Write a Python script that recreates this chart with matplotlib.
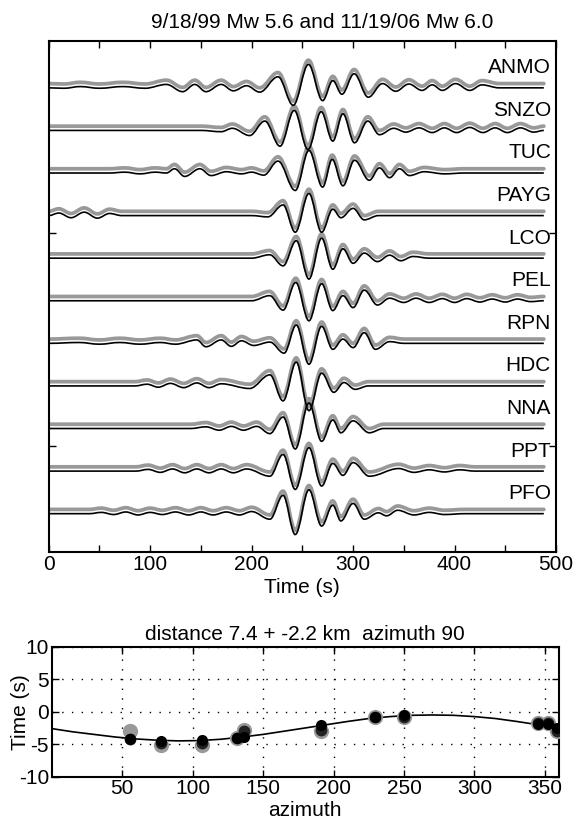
import matplotlib
matplotlib.use('Agg')
import matplotlib.pyplot as plt
from matplotlib.path import Path
from matplotlib.patches import PathPatch

plt.rcParams['font.family'] = ['Liberation Sans', 'DejaVu Sans']
plt.rcParams['axes.unicode_minus'] = False

# ---------------- data ----------------
title_top = '9/18/99 Mw 5.6 and 11/19/06 Mw 6.0'
title_bottom = 'distance 7.4 + -2.2 km  azimuth 90'
stations = ['ANMO', 'SNZO', 'TUC', 'PAYG', 'LCO', 'PEL', 'RPN', 'HDC', 'NNA', 'PPT', 'PFO']

# waveform extrema (time s, amplitude in trace-spacing units)
ANMO_t = [0, 15, 31, 50, 73, 95, 116, 132, 144, 155, 170, 182, 195, 208, 226, 241, 256, 270, 280, 289,
          301, 315, 329, 342, 355, 368, 378, 388, 401, 415, 427, 444, 488]
ANMO_a = [0, -0.01, 0.03, -0.01, 0.03, -0.01, 0.08, -0.09, 0.08, -0.09, 0.08, -0.07, 0.05, -0.10, 0.26,
          -0.41, 0.55, -0.30, 0.17, -0.15, 0.33, -0.22, 0.10, -0.08, 0.09, -0.06, 0.07, -0.06, 0.10,
          -0.06, 0.07, 0, 0]
SNZO_t = [0, 150, 170, 181, 198, 213, 228, 242, 255.5, 268.6, 280, 290, 301.4, 314.5, 326, 340, 352,
          365, 378, 390, 402, 415, 428, 440, 452, 465, 478, 488]
SNZO_a = [0, 0, -0.03, 0.05, -0.12, 0.22, -0.37, 0.47, -0.45, 0.44, -0.25, 0.39, -0.29, 0.22, -0.10,
          0.05, -0.04, 0.06, -0.05, 0.06, -0.05, 0.07, -0.05, 0.06, -0.05, 0.06, -0.04, 0]
TUC_t = [0, 60, 75, 90, 105, 116, 124, 134, 149, 160, 175, 190, 200, 212, 226, 243, 256.5, 270, 279.4,
         290, 301.4, 316, 326, 336, 345.7, 355.5, 370, 390, 410, 488]
TUC_a = [0, 0, 0.02, -0.02, 0.02, 0, 0.10, -0.08, 0.10, -0.06, 0.03, -0.02, 0.02, -0.05, 0.28, -0.41,
         0.53, -0.33, 0.32, -0.30, 0.30, -0.17, 0.12, -0.11, 0.10, -0.06, 0.03, -0.02, 0, 0]
PAYG_t = [0, 10, 22, 35, 48, 60, 72, 200, 216, 231, 243, 256.5, 269, 280, 288, 300, 311, 325, 488]
PAYG_a = [0, 0.06, -0.05, 0.08, -0.06, 0.05, 0, 0, -0.03, 0.25, -0.39, 0.52, -0.39, 0.15, -0.05, 0.17,
          -0.10, 0, 0]
LCO_t = [0, 200, 217.8, 231, 244, 256.5, 269, 280, 290, 300, 311, 324, 336, 347, 359, 375, 488]
LCO_a = [0, 0, 0.08, -0.18, 0.41, -0.49, 0.47, -0.26, 0.22, -0.12, 0.12, -0.08, 0.07, -0.06, 0.04, 0, 0]
PEL_t = [0, 200, 217.8, 231, 243.5, 256.5, 269, 280, 290, 300, 311, 324, 336, 350, 362, 375, 388, 400,
         412, 425, 437, 450, 462, 475, 488]
PEL_a = [0, 0, 0.12, -0.22, 0.43, -0.47, 0.40, -0.23, 0.12, -0.16, 0.25, -0.10, 0.06, -0.04, 0.06,
         -0.04, 0.05, -0.04, 0.05, -0.03, 0.04, -0.03, 0.04, -0.02, 0]
RPN_t = [0, 30, 50, 70, 90, 110, 125, 146, 155, 170, 180, 190, 202, 218, 232, 244, 256.5, 269, 280, 290,
         300, 311, 322, 336, 350, 488]
RPN_a = [0, 0.02, -0.02, 0.02, -0.02, 0.02, -0.02, 0.08, -0.08, 0.08, -0.07, 0.06, -0.05, 0.03, -0.23,
         0.43, -0.49, 0.40, -0.14, 0.10, -0.10, 0.25, -0.14, 0.04, 0, 0]
HDC_t = [0, 85, 97, 108, 120, 133, 146, 158, 170, 198, 218, 231, 244, 256.5, 269, 281, 291, 302, 315, 488]
HDC_a = [0, 0, 0.04, -0.03, 0.06, -0.04, 0.07, -0.04, 0.05, -0.06, 0.26, -0.35, 0.56, -0.58, 0.30,
         -0.15, 0.08, -0.08, 0, 0]
NNA_t = [0, 140, 155, 168, 180, 192, 205, 218, 231, 243, 256.5, 269, 280, 288, 300, 316, 330, 488]
NNA_a = [0, 0, 0.04, -0.04, 0.05, -0.04, 0.05, -0.12, 0.27, -0.48, 0.60, -0.30, 0.20, -0.10, 0.18,
         -0.10, 0, 0]
PPT_t = [0, 86, 98, 110, 122, 134, 146, 158, 170, 182, 195, 218, 231, 243, 256.5, 269, 280, 290, 300,
         316, 345, 360, 375, 390, 405, 420, 488]
PPT_a = [0, 0, 0.04, -0.03, 0.05, -0.04, 0.05, -0.04, 0.05, -0.04, 0.05, -0.12, 0.39, -0.43, 0.55,
         -0.35, 0.18, -0.10, 0.20, -0.12, 0.06, -0.03, 0.03, -0.02, 0.03, 0, 0]
PFO_t = [0, 40, 52, 64, 76, 88, 100, 112, 125, 138, 150, 162, 175, 188, 200, 218, 231, 243, 256.5, 269,
         280, 288, 300, 311, 325, 333, 344, 360, 375, 390, 410, 488]
PFO_a = [0, 0, 0.03, -0.02, 0.04, -0.03, 0.03, -0.02, 0.04, -0.03, 0.04, -0.03, 0.04, -0.03, 0.05,
         -0.13, 0.43, -0.49, 0.56, -0.29, 0.20, -0.17, 0.24, -0.13, 0.02, -0.05, 0.08, -0.03, 0.03,
         -0.02, 0, 0]

trace_t = [ANMO_t, SNZO_t, TUC_t, PAYG_t, LCO_t, PEL_t, RPN_t, HDC_t, NNA_t, PPT_t, PFO_t]
trace_a = [ANMO_a, SNZO_a, TUC_a, PAYG_a, LCO_a, PEL_a, RPN_a, HDC_a, NNA_a, PPT_a, PFO_a]

time_ticks = [0, 50, 100, 150, 200, 250, 300, 350, 400, 450, 500]
time_labels = ['0', '', '100', '', '200', '', '300', '', '400', '', '500']

# bottom panel
curve_az = [0, 15, 30, 45, 60, 75, 90, 105, 120, 135, 150, 165, 180, 195, 210, 225, 240, 255, 270,
            285, 300, 315, 330, 345, 360]
curve_time = [-2.6, -3.1, -3.5, -3.9, -4.2, -4.4, -4.5, -4.45, -4.25, -3.9, -3.5, -3.0, -2.5, -2.0,
              -1.5, -1.05, -0.75, -0.55, -0.5, -0.55, -0.75, -1.05, -1.5, -2.0, -2.5]
station_az = [55.7, 77.5, 107, 131.5, 136.8, 190.8, 229.5, 250, 345.4, 352.5, 358.5]
obs_gray = [-2.9, -5.15, -5.15, -4.0, -2.85, -2.95, -0.85, -0.8, -1.75, -1.75, -3.0]
obs_dark = [-4.2, -4.9, -4.9, -4.0, -2.95, -2.85, -0.85, -0.75, -1.8, -1.8, -2.95]
model_time = [-4.2, -4.5, -4.4, -4.0, -3.9, -2.1, -0.85, -0.57, -1.85, -1.9, -2.5]
az_ticks = [50, 100, 150, 200, 250, 300, 350]
time_yticks = [-10, -5, 0, 5, 10]

# ---------------- drawing ----------------
FS = 15
C = 0.364  # bezier handle fraction for smooth half-cycles
W, H = 582.0, 818.0


def wiggle(t, a, base):
    verts = [(t[0], base + a[0])]
    codes = [Path.MOVETO]
    for i in range(1, len(t)):
        dt = t[i] - t[i - 1]
        verts += [(t[i - 1] + C * dt, base + a[i - 1]),
                  (t[i] - C * dt, base + a[i]),
                  (t[i], base + a[i])]
        codes += [Path.CURVE4] * 3
    return Path(verts, codes)


fig = plt.figure(figsize=(5.82, 8.18), dpi=100)
ax1 = fig.add_axes([48.7 / W, (H - 552) / H, 507.3 / W, 511 / H])
n = len(stations)
for i, name in enumerate(stations):
    base = n - i
    ax1.add_patch(PathPatch(wiggle(trace_t[i], trace_a[i], base), fill=False,
                            edgecolor='#999999', lw=2.7, capstyle='round', joinstyle='round', zorder=2))
    ax1.add_patch(PathPatch(wiggle(trace_t[i], trace_a[i], base - 0.1), fill=False,
                            edgecolor='black', lw=1.2, zorder=3))
    ax1.text(495, base + 0.37, name, ha='right', va='center', fontsize=FS, zorder=4)

ax1.set_xlim(0, 500)
ax1.set_ylim(0, n + 1)
ax1.set_xticks(time_ticks)
ax1.set_xticklabels(time_labels)
ax1.set_yticks([2.5, 7.5])
ax1.set_yticklabels([])
ax1.tick_params(direction='in', top=True, right=True, length=5, width=1, labelsize=FS, pad=2)
for s in ax1.spines.values():
    s.set_linewidth(1.5)
ax1.set_xlabel('Time (s)', fontsize=FS, labelpad=3)
fig.text(322 / W, 1 - 22 / H, title_top, ha='center', va='center', fontsize=FS)

ax2 = fig.add_axes([51.7 / W, (H - 776.5) / H, 507.3 / W, 129.5 / H])
ax2.plot(curve_az, curve_time, color='black', lw=1.2, zorder=2)
ax2.plot(station_az, obs_gray, 'o', color='#999999', ms=11, mec='none', zorder=3)
ax2.plot(station_az, obs_dark, 'o', color='#222222', ms=8.5, mec='none', zorder=4)
ax2.plot(station_az, model_time, 'o', color='black', ms=8, mec='none', zorder=5)
ax2.set_xlim(0, 360)
ax2.set_ylim(-10, 10)
ax2.set_xticks(az_ticks)
ax2.set_yticks(time_yticks)
ax2.grid(True, color='black', linestyle=(0, (1, 6)), lw=1)
ax2.tick_params(direction='in', top=True, right=True, length=5, width=1, labelsize=FS, pad=2)
for s in ax2.spines.values():
    s.set_linewidth(1.5)
fig.text(305 / W, 1 - 810 / H, 'azimuth', ha='center', va='center', fontsize=FS)
fig.text(20 / W, 1 - 712 / H, 'Time (s)', ha='center', va='center', rotation=90, fontsize=FS)
fig.text(305 / W, 1 - 635 / H, title_bottom, ha='center', va='center', fontsize=FS)

fig.savefig('out.png', dpi=100)
